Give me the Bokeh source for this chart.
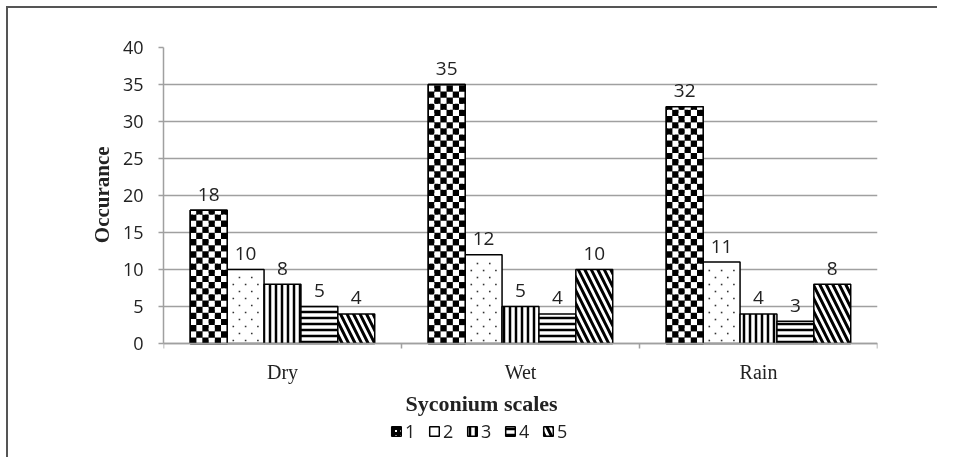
import math
from bokeh.plotting import figure
from bokeh.layouts import column
from bokeh.models import (ColumnDataSource, Range1d, FixedTicker, Legend,
                          LegendItem, Label)
from bokeh.transform import dodge
from bokeh.core.properties import value
from bokeh.embed import file_html
from bokeh.resources import INLINE

# ---- data ----
seasons = ["Dry", "Wet", "Rain"]
scale_names = ["1", "2", "3", "4", "5"]
scale1 = [18, 35, 32]
scale2 = [10, 12, 11]
scale3 = [8, 5, 4]
scale4 = [5, 4, 3]
scale5 = [4, 10, 8]
y_ticks = [0, 5, 10, 15, 20, 25, 30, 35, 40]

series = [scale1, scale2, scale3, scale4, scale5]

# ---- styles ----
patterns = ["cross", None, "vertical_line", "horizontal_line", "left_diagonal_line"]
hatch_scales = [5, 10, 6, 6, 13]
hatch_weights = [3, 1, 2.5, 2.5, 3]
bar_w = 0.155
GRID = "#a0a0a0"
TXT = "#222222"
SANS = "Open Sans"
SERIF = "Liberation Serif"
PX_PER_X = 238
PX_PER_Y = 7.4
Y_MAX = 40
Y_MIN = -15.4          # frame extends below zero to hold title and legend

xpos = [i + 0.5 for i in range(len(seasons))]
data = dict(x=xpos)
for j, vals in enumerate(series):
    data[f"s{j}"] = vals
    data[f"t{j}"] = [str(v) for v in vals]
src = ColumnDataSource(data)

p = figure(frame_width=PX_PER_X * len(seasons),
           frame_height=round((Y_MAX - Y_MIN) * PX_PER_Y),
           x_range=Range1d(0, len(seasons)), y_range=Range1d(Y_MIN, Y_MAX),
           output_backend="svg", toolbar_location=None,
           min_border_left=155, min_border_top=39,
           min_border_right=60, min_border_bottom=0)
p.outline_line_color = None
p.background_fill_color = "white"
p.border_fill_color = "white"

n = len(series)
offsets = [(j - (n - 1) / 2) * bar_w for j in range(n)]

renderers = []
for j in range(n):
    kw = dict(fill_color="white", line_color="black", line_width=1.5)
    if patterns[j]:
        kw.update(hatch_pattern=patterns[j], hatch_color="black",
                  hatch_scale=hatch_scales[j], hatch_weight=hatch_weights[j])
    r = p.vbar(x=dodge("x", offsets[j]), top=f"s{j}", width=bar_w, source=src, **kw)
    renderers.append(r)

# checkerboard fill for series 1 (derived from the bar extents)
ncols = 6
cell_w = bar_w / ncols
cell_h = cell_w * PX_PER_X / PX_PER_Y
ql, qr, qb, qt, qc = [], [], [], [], []
for xc, top in zip(xpos, scale1):
    left0 = xc + offsets[0] - bar_w / 2
    for rr in range(math.ceil(top / cell_h)):
        b = rr * cell_h
        t = min(b + cell_h, top)
        for cc in range(ncols):
            ql.append(left0 + cc * cell_w)
            qr.append(left0 + (cc + 1) * cell_w)
            qb.append(b)
            qt.append(t)
            qc.append("black" if (rr + cc) % 2 == 0 else "white")
p.quad(left=ql, right=qr, bottom=qb, top=qt, fill_color=qc, line_color=None)
p.vbar(x=dodge("x", offsets[0]), top="s0", width=bar_w, source=src,
       fill_color=None, line_color="black", line_width=1.5)

# sparse dots for series 2
dx, dy = [], []
row_px = 7
for xc, top in zip(xpos, scale2):
    left0 = xc + offsets[1] - bar_w / 2
    nrows = int((top * PX_PER_Y - 4) // row_px)
    for rr in range(nrows):
        yv = (3 + rr * row_px) / PX_PER_Y
        fracs = [1 / 6, 1 / 2, 5 / 6] if rr % 2 == 0 else [1 / 3, 2 / 3]
        for f in fracs:
            dx.append(left0 + f * bar_w)
            dy.append(yv)
p.scatter(x=dx, y=dy, marker="square", size=1.6, fill_color="#333333", line_color=None)

# value labels
for j in range(n):
    p.text(x=dodge("x", offsets[j]), y=f"s{j}", text=f"t{j}", source=src,
           text_align="center", text_baseline="alphabetic", y_offset=-16,
           text_font=value(SANS), text_font_size="19px", text_color=TXT)

# axes
p.xgrid.visible = False
p.ygrid.ticker = FixedTicker(ticks=y_ticks)
p.ygrid.grid_line_color = GRID
p.ygrid.grid_line_width = 1.5

yax = p.yaxis[0]
yax.ticker = FixedTicker(ticks=y_ticks)
yax.bounds = (0, Y_MAX)
yax.axis_line_color = GRID
yax.axis_line_width = 1.5
yax.major_tick_line_color = GRID
yax.major_tick_line_width = 1.5
yax.major_tick_out = 5
yax.major_tick_in = 0
yax.minor_tick_line_color = None
yax.major_label_standoff = 15
yax.major_label_text_font = SANS
yax.major_label_text_font_size = "18px"
yax.major_label_text_color = TXT
# leading em-spaces lift the centred title to the middle of the 0-40 span
yax.axis_label = "\u2003\u2003\u2003\u2003\u2003\u2002Occurance"
yax.axis_label_text_font = SERIF
yax.axis_label_text_font_style = "bold"
yax.axis_label_text_font_size = "21px"
yax.axis_label_text_color = TXT
yax.axis_label_standoff = 6

xax = p.xaxis[0]
xax.fixed_location = 0
xax.ticker = FixedTicker(ticks=xpos, minor_ticks=list(range(len(seasons) + 1)))
xax.major_label_overrides = {x: s for x, s in zip(xpos, seasons)}
xax.axis_line_color = GRID
xax.axis_line_width = 1.5
xax.major_tick_line_color = None
xax.major_tick_out = 0
xax.major_tick_in = 0
xax.minor_tick_line_color = GRID
xax.minor_tick_line_width = 1.5
xax.minor_tick_out = 5
xax.minor_tick_in = 0
xax.major_label_standoff = 12
xax.major_label_text_font = SERIF
xax.major_label_text_font_size = "20px"
xax.major_label_text_color = TXT

p.add_layout(Label(x=242, x_units="screen", y=-8.1, y_units="data",
                   text="Syconium scales", text_font=SERIF, text_font_size="22px",
                   text_font_style="bold", text_color=TXT,
                   text_align="left", text_baseline="alphabetic"))

items = [LegendItem(label=s, renderers=[r]) for s, r in zip(scale_names, renderers)]
legend = Legend(items=items, location=(227, 14), orientation="horizontal",
                glyph_width=12, glyph_height=12, label_standoff=3, spacing=3,
                label_width=20, label_height=20, padding=0, margin=0,
                label_text_font=SANS, label_text_font_size="18px", label_text_color=TXT,
                border_line_color=None, background_fill_alpha=0)
p.add_layout(legend)

root = column(p, styles={"position": "fixed", "top": "6px", "left": "6px",
                         "box-sizing": "content-box", "overflow": "visible",
                         "border-top": "2px solid #555555",
                         "border-left": "2px solid #555555"})

open("out.html", "w").write(file_html(root, INLINE))
